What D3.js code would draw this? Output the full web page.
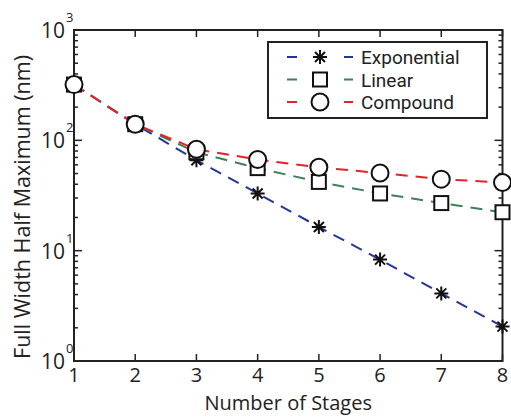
<!DOCTYPE html>
<html>
<head>
<meta charset="utf-8">
<script src="https://cdn.jsdelivr.net/npm/d3@7"></script>
<style>
  body { margin: 0; background: #fff; }
  text { font-family: "Open Sans", "Noto Sans", sans-serif; fill: #222; }
  .leg-text { font-family: Roboto, "Open Sans", sans-serif; }
</style>
</head>
<body>
<div id="chart-div"></div>
<script>
// data
const stages = [1, 2, 3, 4, 5, 6, 7, 8];
const exponential = [320, 140, 66, 33, 16.4, 8.3, 4.1, 2.05];
const linear = [320, 140, 78, 56, 42, 33, 27, 22.3];
const compound = [320, 140, 83, 67, 57, 50.5, 44.5, 41.5];
const seriesNames = ["Exponential", "Linear", "Compound"];
const yTicks = [1, 10, 100, 1000];

const blue = '#25359a';
const green = '#3e7f5c';
const red = '#e4222b';

const width = 511;
const height = 417;
const margin = { top: 30, right: 8, bottom: 56, left: 74 };

const svg = d3.select("#chart-div")
    .append("svg")
    .attr("width", width)
    .attr("height", height);

const xScale = d3.scaleLinear()
    .domain([1, 8])
    .range([margin.left, width - margin.right - 0.5]);

const yScale = d3.scaleLog()
    .domain([1, 1000])
    .range([height - margin.bottom, margin.top]);

// frame
svg.append("rect")
    .attr("x", xScale(1))
    .attr("y", yScale(1000))
    .attr("width", xScale(8) - xScale(1))
    .attr("height", yScale(1) - yScale(1000))
    .style("fill", "none")
    .style("stroke", "#222")
    .style("stroke-width", 2);

// x ticks (inside, top and bottom)
const tickG = svg.append("g").style("stroke", "#222").style("stroke-width", 1.5);
stages.forEach(s => {
    tickG.append("line").attr("x1", xScale(s)).attr("x2", xScale(s))
        .attr("y1", yScale(1)).attr("y2", yScale(1) - 7);
    tickG.append("line").attr("x1", xScale(s)).attr("x2", xScale(s))
        .attr("y1", yScale(1000)).attr("y2", yScale(1000) + 7);
});

// y ticks, log minors
const minors = [];
[1, 10, 100].forEach(d => {
    for (let m = 2; m <= 9; m++) minors.push(d * m);
});
yTicks.forEach(v => {
    tickG.append("line").attr("x1", xScale(1)).attr("x2", xScale(1) + 8)
        .attr("y1", yScale(v)).attr("y2", yScale(v));
    tickG.append("line").attr("x1", xScale(8)).attr("x2", xScale(8) - 8)
        .attr("y1", yScale(v)).attr("y2", yScale(v));
});
minors.forEach(v => {
    tickG.append("line").attr("x1", xScale(1)).attr("x2", xScale(1) + 4)
        .attr("y1", yScale(v)).attr("y2", yScale(v));
    tickG.append("line").attr("x1", xScale(8)).attr("x2", xScale(8) - 4)
        .attr("y1", yScale(v)).attr("y2", yScale(v));
});

// x tick labels
svg.selectAll(".xlab").data(stages).enter().append("text")
    .attr("class", "xlab")
    .text(d => d)
    .attr("x", d => xScale(d))
    .attr("y", yScale(1) + 21)
    .attr("text-anchor", "middle")
    .style("font-size", "20px");

// y tick labels 10^n
yTicks.forEach(v => {
    const e = Math.round(Math.log10(v));
    svg.append("text")
        .attr("x", xScale(1) - 9)
        .attr("y", yScale(v) + 8)
        .attr("text-anchor", "end")
        .style("font-size", "21px")
        .text("10");
    svg.append("text")
        .attr("x", xScale(1) - 8)
        .attr("y", yScale(v) - 8)
        .attr("text-anchor", "start")
        .style("font-size", "13px")
        .text(e);
});

// axis titles
svg.append("text")
    .text("Number of Stages")
    .attr("x", (xScale(1) + xScale(8)) / 2)
    .attr("y", 410)
    .attr("text-anchor", "middle")
    .style("font-size", "20px");

svg.append("text")
    .text("Full Width Half Maximum (nm)")
    .attr("transform", "translate(30,207) rotate(-90)")
    .attr("text-anchor", "middle")
    .style("font-size", "21.5px");

// lines
const series = [
    { name: seriesNames[0], values: exponential, color: blue, marker: "star" },
    { name: seriesNames[1], values: linear, color: green, marker: "square" },
    { name: seriesNames[2], values: compound, color: red, marker: "circle" }
];

const line = d3.line()
    .x((d, i) => xScale(stages[i]))
    .y(d => yScale(d));

series.forEach(s => {
    svg.append("path")
        .datum(s.values)
        .attr("d", line)
        .style("fill", "none")
        .style("stroke", s.color)
        .style("stroke-width", 2)
        .style("stroke-dasharray", "12,8");
});

function drawMarker(g, type, x, y) {
    if (type == "circle") {
        g.append("circle").attr("cx", x).attr("cy", y).attr("r", 8.5)
            .style("fill", "#fff").style("stroke", "#111").style("stroke-width", 2);
    } else if (type == "square") {
        g.append("rect").attr("x", x - 7).attr("y", y - 7).attr("width", 14).attr("height", 14)
            .style("fill", "#fff").style("stroke", "#111").style("stroke-width", 2);
    } else {
        const r = 7, q = 5;
        const p = `M${x - r},${y}L${x + r},${y}M${x},${y - r}L${x},${y + r}` +
            `M${x - q},${y - q}L${x + q},${y + q}M${x - q},${y + q}L${x + q},${y - q}`;
        g.append("path").attr("d", p).style("stroke", "#111").style("stroke-width", 2);
    }
}

const markG = svg.append("g");
series.forEach(s => {
    s.values.forEach((v, i) => drawMarker(markG, s.marker, xScale(stages[i]), yScale(v)));
});

// legend
const lg = svg.append("g");
lg.append("rect")
    .attr("x", 268).attr("y", 42).attr("width", 219).attr("height", 76)
    .style("fill", "#fff").style("stroke", "#222").style("stroke-width", 2);

series.forEach((s, i) => {
    const y = 57 + i * 22.5;
    lg.append("line").attr("x1", 287).attr("x2", 353).attr("y1", y).attr("y2", y)
        .style("stroke", s.color).style("stroke-width", 2)
        .style("stroke-dasharray", "10,18.5");
    drawMarker(lg, s.marker, 320, y);
    lg.append("text").text(s.name)
        .attr("class", "leg-text")
        .attr("x", 361).attr("y", y + 7)
        .style("font-size", "19px");
});
</script>
</body>
</html>
